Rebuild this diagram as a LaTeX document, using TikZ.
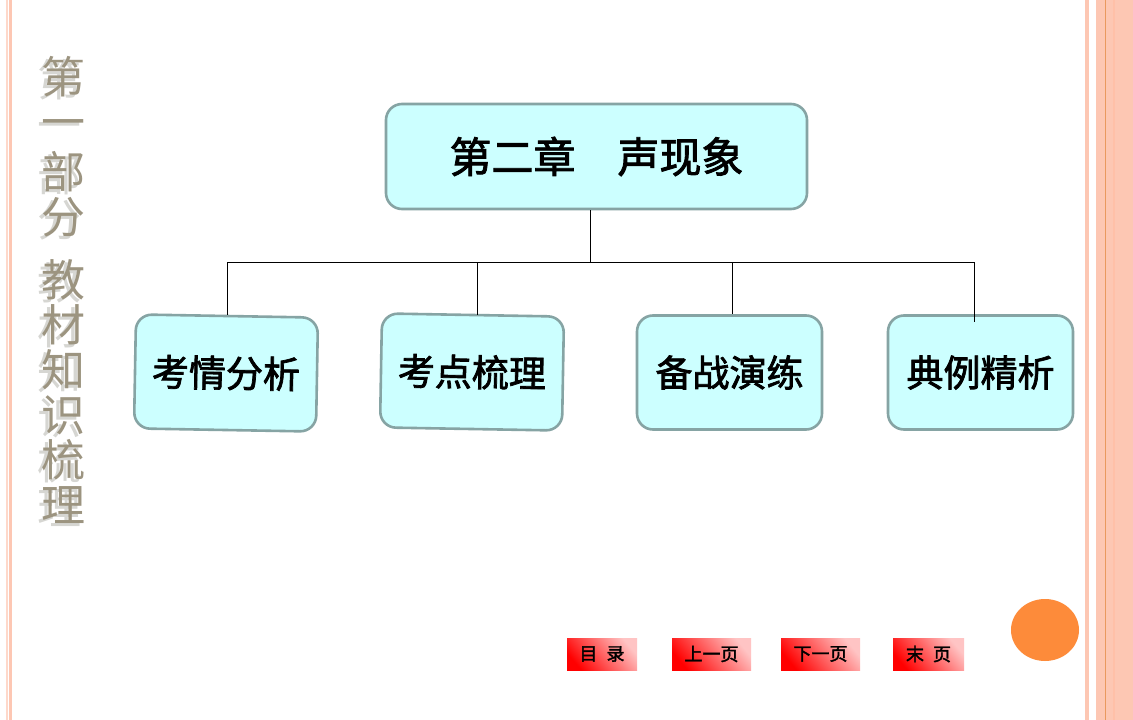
\documentclass[tikz,border=0pt]{standalone}
\usepackage{fontspec}
\newfontfamily\cjk{Noto Sans CJK SC}
\newfontfamily\cjkb[FakeBold=2]{Noto Sans CJK SC}
\usetikzlibrary{shapes.misc}
\definecolor{nodefill}{HTML}{CCFFFF}
\definecolor{nodeborder}{HTML}{86A4A4}
\definecolor{stripe}{HTML}{FDC7B3}
\definecolor{stripedark}{HTML}{E9995F}
\definecolor{stripeband}{HTML}{FFC0A8}
\definecolor{sidetext}{HTML}{9C9480}
\definecolor{sideshadow}{HTML}{D6D6D2}
\definecolor{btnlight}{HTML}{FFC4C4}
\definecolor{btnred}{HTML}{FF0000}
\definecolor{dotorange}{HTML}{FD8B3A}
\newcommand{\shadowch}[1]{\rlap{\raisebox{-3pt}{\kern-3pt\textcolor{sideshadow}{#1}}}#1}
\tikzset{
  topbox/.style={draw=nodeborder, line width=2.6pt, fill=nodefill, rounded corners=16pt,
    minimum width=421pt, minimum height=105pt, inner sep=0pt,
    font=\cjkb\fontsize{42}{42}\selectfont},
  childbox/.style={draw=nodeborder, line width=2.6pt, fill=nodefill, rounded corners=16pt,
    minimum width=182pt, minimum height=114pt, inner sep=0pt,
    font=\cjkb\fontsize{37}{37}\selectfont},
  link/.style={draw=black, line width=1pt},
  sidetitle/.style={font=\cjk\fontsize{44}{45}\selectfont, text=sidetext, inner sep=0pt, align=center},
  navbtn/.style={shade, top color=btnlight, bottom color=btnred, shading angle=-50,
    minimum width=#1, minimum height=32pt, inner sep=0pt,
    font=\cjkb\fontsize{18}{18}\selectfont},
}
\begin{document}
\begin{tikzpicture}[x=1pt, y=-1pt]
\useasboundingbox (0,0) rectangle (1133,720);
\fill[white] (0,0) rectangle (1133,720);
% left border stripes
\fill[stripe!70!white] (6,0) rectangle (8,720);
\fill[stripe] (9,0) rectangle (12,720);
% right border stripes
\fill[stripe] (1085,0) rectangle (1089,720);
\fill[stripe] (1096,0) rectangle (1133,720);
\fill[stripeband] (1113,0) rectangle (1115,720);
\fill[stripedark] (1104.5,0) rectangle (1105.8,720);
% vertical side title
\node[sidetitle] (side) at (63,291) {\shadowch{第}\\\shadowch{一}\\[5pt]\shadowch{部}\\\shadowch{分}\\[18pt]\shadowch{教}\\\shadowch{材}\\\shadowch{知}\\\shadowch{识}\\\shadowch{梳}\\\shadowch{理}};
% main nodes
\node[topbox] (top) at (596.5,156.5) {第二章　声现象};
\node[childbox, rotate=-1] (c1) at (226,373) {考情分析};
\node[childbox, rotate=-1] (c2) at (472,372) {考点梳理};
\node[childbox, minimum width=185pt] (c3) at (729.5,372.5) {备战演练};
\node[childbox, minimum width=185pt] (c4) at (980.5,372.5) {典例精析};
% connectors
\coordinate (hub) at (590,262);
\coordinate (j1) at (227,262);
\coordinate (j2) at (477,262);
\coordinate (j3) at (732,262);
\coordinate (j4) at (974,262);
\coordinate (e2) at (477,314.5);
\coordinate (e4) at (974,322);
\draw[link] (top.south -| hub) -- (hub);
\draw[link] (j1) -- (j4);
\draw[link] (j1) -- (j1 |- c1.north);
\draw[link] (j2) -- (e2);
\draw[link] (j3) -- (j3 |- c3.north);
\draw[link] (j4) -- (e4);
% navigation buttons
\node[navbtn=70pt] (b1) at (602,654) {目\hspace{0.5em}录};
\node[navbtn=79pt] (b2) at (711.5,654) {上一页};
\node[navbtn=79pt] (b3) at (820.5,654) {下一页};
\node[navbtn=71pt] (b4) at (928.5,654) {末\hspace{0.5em}页};
% orange dot
\fill[dotorange] (1045,630) ellipse [x radius=34pt, y radius=31pt];
\end{tikzpicture}
\end{document}
